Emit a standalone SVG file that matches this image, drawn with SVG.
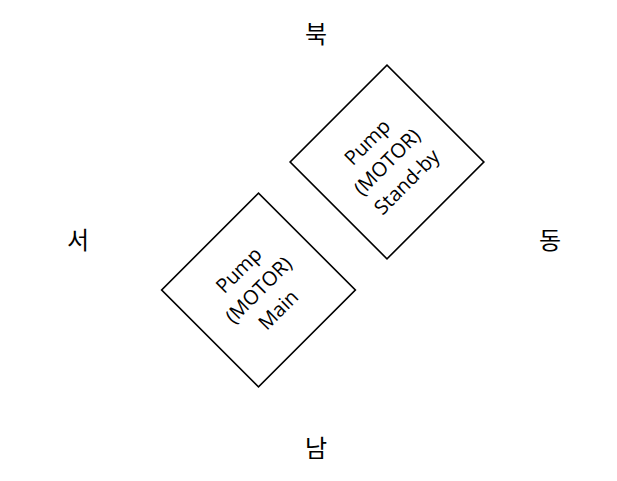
<svg xmlns="http://www.w3.org/2000/svg" width="617" height="481" viewBox="0 0 617 481">
<style>
.box{fill:#fff;stroke:#000;stroke-width:1.6}
.t{font-family:"Open Sans","Noto Sans","Noto Sans CJK KR",sans-serif;font-size:20px;fill:#000;text-anchor:middle}
.d{font-family:"Noto Sans CJK KR","Noto Sans",sans-serif;font-size:24px;fill:#000;text-anchor:middle}
</style>
<rect width="617" height="481" fill="#fff"/>
<g id="north"><text class="d" x="316" y="43">북</text></g>
<g id="west"><text class="d" x="78" y="249">서</text></g>
<g id="east"><text class="d" x="550" y="249">동</text></g>
<g id="south"><text class="d" x="316" y="457">남</text></g>
<g id="pump-main" transform="translate(258.5,290) rotate(-45)">
<rect class="box" x="-68.5" y="-68.5" width="137" height="137"/>
<text class="t" x="0" y="-21">Pump</text>
<text class="t" x="0" y="7">(MOTOR)</text>
<text class="t" x="0" y="35">Main</text>
</g>
<g id="pump-standby" transform="translate(387,162) rotate(-45)">
<rect class="box" x="-68.5" y="-68.5" width="137" height="137"/>
<text class="t" x="0" y="-21">Pump</text>
<text class="t" x="0" y="7">(MOTOR)</text>
<text class="t" x="0" y="35">Stand-by</text>
</g>
<g id="connectors"></g>
</svg>
